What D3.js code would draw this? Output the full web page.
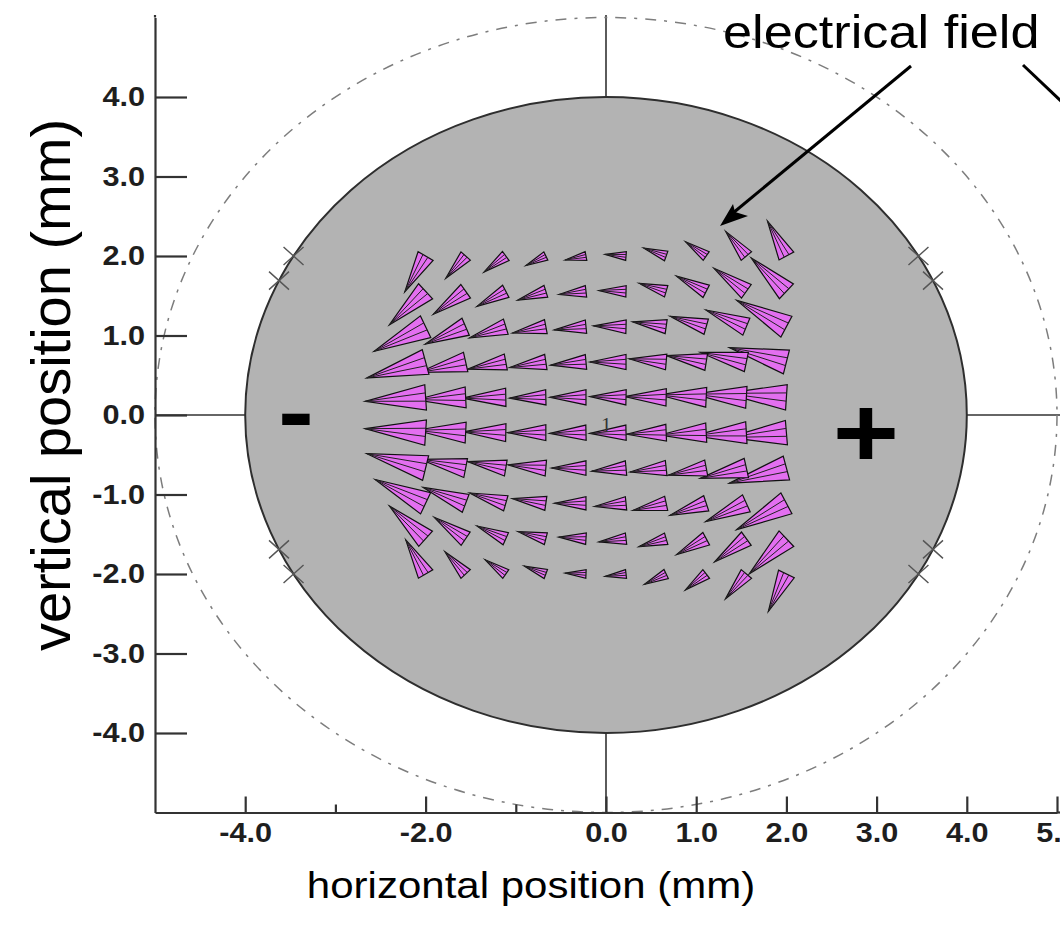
<!DOCTYPE html>
<html><head><meta charset="utf-8">
<script src="https://cdn.jsdelivr.net/npm/d3@7"></script>
<style>body{margin:0;background:#fff;} svg{display:block;}</style>
</head><body>
<script>
// ---- data (mm) ----
const gridX = [-2.0, -1.556, -1.111, -0.667, -0.222, 0.222, 0.667, 1.111, 1.556, 2.0];
const gridY = [2.0, 1.556, 1.111, 0.667, 0.222, -0.222, -0.667, -1.111, -1.556, -2.0];
// field vector components (horizontal u, vertical v) per row of gridY
const fieldU = [
  [-0.23,-0.22,-0.24,-0.22,-0.23,-0.23,-0.25,-0.23,-0.23,-0.21],
  [-0.40,-0.36,-0.32,-0.31,-0.30,-0.30,-0.30,-0.33,-0.36,-0.39],
  [-0.57,-0.45,-0.40,-0.37,-0.35,-0.36,-0.37,-0.40,-0.45,-0.55],
  [-0.65,-0.51,-0.42,-0.40,-0.39,-0.40,-0.41,-0.44,-0.51,-0.63],
  [-0.67,-0.55,-0.48,-0.40,-0.40,-0.40,-0.46,-0.52,-0.58,-0.67],
  [-0.67,-0.55,-0.47,-0.42,-0.40,-0.40,-0.44,-0.51,-0.58,-0.64],
  [-0.65,-0.50,-0.42,-0.42,-0.38,-0.38,-0.40,-0.42,-0.51,-0.63],
  [-0.56,-0.47,-0.40,-0.37,-0.35,-0.35,-0.37,-0.40,-0.45,-0.55],
  [-0.40,-0.35,-0.32,-0.31,-0.30,-0.30,-0.30,-0.33,-0.35,-0.41],
  [-0.22,-0.23,-0.23,-0.24,-0.23,-0.23,-0.24,-0.23,-0.23,-0.20]
];
const fieldV = [
  [-0.45,-0.28,-0.20,-0.12,-0.05, 0.02, 0.10, 0.18, 0.31, 0.44],
  [-0.42,-0.29,-0.19,-0.11,-0.04, 0.01, 0.10, 0.19, 0.29, 0.42],
  [-0.31,-0.22,-0.14,-0.08,-0.04, 0.01, 0.06, 0.13, 0.21, 0.33],
  [-0.20,-0.13,-0.09,-0.07,-0.04, 0.00, 0.04, 0.08, 0.12, 0.18],
  [-0.05,-0.03,-0.01,-0.01, 0.00, 0.01, 0.01, 0.03, 0.04, 0.05],
  [ 0.05, 0.03, 0.01, 0.00,-0.01,-0.01,-0.02,-0.03,-0.04,-0.06],
  [ 0.18, 0.11, 0.08, 0.04, 0.00,-0.04,-0.05,-0.09,-0.13,-0.19],
  [ 0.30, 0.20, 0.13, 0.06, 0.00,-0.04,-0.09,-0.15,-0.23,-0.33],
  [ 0.41, 0.27, 0.16, 0.09, 0.02,-0.04,-0.10,-0.20,-0.29,-0.44],
  [ 0.43, 0.28, 0.18, 0.10, 0.01,-0.03,-0.13,-0.20,-0.31,-0.47]
];
const yTicks = [4, 3, 2, 1, 0, -1, -2, -3, -4];
const xTicksMajor = [-4, -2, 0, 1, 2, 3, 4, 5];
const xTicksMinor = [-3, -1];
const sampleRadius = 4;      // grey disk radius (mm)
const outerRadius = 5;       // dash-dot circle radius (mm)
const markAngles = [25, 30, 150, 155, 205, 210, 330, 335]; // degrees, x marks on disk edge

const W = 1060, H = 933, SX = 1.136;
const svg = d3.select("body").append("svg").attr("width", W).attr("height", H);
const x = d3.scaleLinear().domain([-5, 5]).range([155, 1057]);
const y = d3.scaleLinear().domain([-5, 5]).range([812.5, 17.5]);

// crosshair
svg.append("line").attr("x1", x(0)).attr("x2", x(0)).attr("y1", 15).attr("y2", y(-5))
  .attr("stroke", "#333").attr("stroke-width", 1.6);
svg.append("line").attr("x1", x(-5)).attr("x2", W).attr("y1", y(0)).attr("y2", y(0))
  .attr("stroke", "#333").attr("stroke-width", 1.6);

// outer dash-dot circle
svg.append("ellipse").attr("cx", x(0)).attr("cy", y(0))
  .attr("rx", x(outerRadius) - x(0)).attr("ry", y(0) - y(outerRadius))
  .attr("fill", "none").attr("stroke", "#7d7d7d").attr("stroke-width", 1.5)
  .attr("stroke-dasharray", "11,8,3,8");

// grey disk
svg.append("ellipse").attr("cx", x(0)).attr("cy", y(0))
  .attr("rx", x(sampleRadius) - x(0)).attr("ry", y(0) - y(sampleRadius))
  .attr("fill", "#b3b3b3").attr("stroke", "#2e2e2e").attr("stroke-width", 2);

// x marks on disk edge
markAngles.forEach(a => {
  const r = a * Math.PI / 180;
  const px = x(sampleRadius * Math.cos(r)), py = y(sampleRadius * Math.sin(r));
  svg.append("path").attr("d", `M${px-10},${py-9}L${px+10},${py+9}M${px-10},${py+9}L${px+10},${py-9}`)
    .attr("stroke", "#555").attr("stroke-width", 1.4);
});

// axes
const fmt = d => d.toFixed(1);
const yAxis = svg.append("g").attr("transform", `translate(${x(-5)},0)`)
  .call(d3.axisLeft(y).tickValues(yTicks).tickSize(-32).tickSizeOuter(0).tickPadding(10).tickFormat(fmt));
const xAxis = svg.append("g").attr("transform", `translate(0,${y(-5)})`)
  .call(d3.axisBottom(x).tickValues(xTicksMajor).tickSize(-16).tickSizeOuter(0).tickPadding(10).tickFormat(fmt));
const xMinor = svg.append("g").attr("transform", `translate(0,${y(-5)})`)
  .call(d3.axisBottom(x).tickValues(xTicksMinor).tickSize(-8).tickSizeOuter(0).tickFormat(""));
xMinor.select(".domain").remove();
[yAxis, xAxis, xMinor].forEach(g => {
  g.selectAll(".domain").attr("stroke", "#333").attr("stroke-width", 2.2);
  g.selectAll(".tick line").attr("stroke", "#333").attr("stroke-width", 2.2);
});
svg.append("line").attr("x1", x(-5)).attr("x2", x(-5)).attr("y1", 15).attr("y2", y(5)).attr("stroke", "#333").attr("stroke-width", 2.2);
svg.append("line").attr("x1", x(5)).attr("x2", W).attr("y1", y(-5)).attr("y2", y(-5)).attr("stroke", "#333").attr("stroke-width", 2.2);
[yAxis, xAxis].forEach(g => g.selectAll(".tick text")
  .attr("font-family", "Liberation Sans, Arial, sans-serif").attr("font-size", 27).attr("font-weight", "bold")
  .attr("fill", "#1e1e1e"));
yAxis.selectAll(".tick text").attr("transform", function() {
  const tx = +d3.select(this).attr("x");
  return `translate(${tx},0) scale(${SX},1) translate(${-tx},0)`;
});
xAxis.selectAll(".tick text").attr("transform", `scale(${SX},1)`);

// field arrows
const arrows = [];
gridY.forEach((gy, j) => gridX.forEach((gx, i) => arrows.push({gx, gy, u: fieldU[j][i], v: fieldV[j][i], i, j})));
arrows.sort((a, b) => b.i - a.i || a.j - b.j);
const ag = svg.append("g");
arrows.forEach(d => {
  const ax = x(d.gx), ay = y(d.gy), tx = x(d.gx + d.u), ty = y(d.gy + d.v);
  const dx = tx - ax, dy = ty - ay, L = Math.hypot(dx, dy);
  const nx = -dy / L, ny = dx / L, w = 0.21 * L;
  const g = ag.append("g");
  g.append("path").attr("d", `M${tx},${ty}L${ax + nx*w},${ay + ny*w}L${ax - nx*w},${ay - ny*w}Z`)
    .attr("fill", "#e36ff0").attr("stroke", "#111").attr("stroke-width", 1.2)
    .attr("stroke-linejoin", "miter").attr("stroke-miterlimit", 10);
  g.append("path").attr("d", `M${tx},${ty}L${ax + nx*w*0.35},${ay + ny*w*0.35}M${tx},${ty}L${ax - nx*w*0.3},${ay - ny*w*0.3}`)
    .attr("stroke", "#222").attr("stroke-width", 1).attr("fill", "none");
});

// small "1" label at centre
svg.append("text").attr("x", x(0) - 5).attr("y", y(0) + 17).text("1")
  .attr("font-family", "Liberation Serif, serif").attr("font-size", 21).attr("fill", "#333");

function stretchedText(tx, ty, txt, size, weight, anchor, rot, sx) {
  return svg.append("text")
    .attr("transform", `translate(${tx},${ty}) scale(${sx || SX},1)` + (rot ? ` rotate(${rot})` : ""))
    .attr("text-anchor", anchor).attr("font-family", "Liberation Sans, Arial, sans-serif")
    .attr("font-size", size).attr("font-weight", weight).attr("fill", "#000").text(txt);
}
// electrode signs
stretchedText(296, 444, "-", 95, "bold", "middle");
stretchedText(866, 467, "+", 100, "bold", "middle");

// titles
stretchedText(531, 898, "horizontal position (mm)", 37, "normal", "middle");
stretchedText(70, 385, "vertical position (mm)", 56, "normal", "middle", -90, 1);
stretchedText(723, 48, "electrical field", 46, "normal", "start");

// annotation arrows
svg.append("line").attr("x1", 911).attr("y1", 66).attr("x2", 733).attr("y2", 213)
  .attr("stroke", "#000").attr("stroke-width", 3);
svg.append("path").attr("d", "M720,226 L733,204 L735,212 L748,216 Z").attr("fill", "#000");
svg.append("line").attr("x1", 1023).attr("y1", 65).attr("x2", 1100).attr("y2", 138)
  .attr("stroke", "#000").attr("stroke-width", 3);
</script>
</body></html>
